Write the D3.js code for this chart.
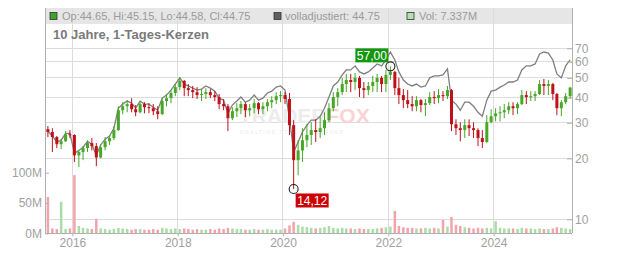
<!DOCTYPE html>
<html><head><meta charset="utf-8">
<script src="https://cdn.jsdelivr.net/npm/d3@7"></script>
<style>body{margin:0;background:#fff}svg{display:block;font-family:"Liberation Sans",Arial,sans-serif}</style>
</head><body><svg id="c" width="632" height="253"></svg>
<script>
// Monthly periods Jul 2015 .. Jun 2025
const periodStart = new Date(2015, 6, 1), periodEnd = new Date(2025, 6, 1);
const opens = [27.9,27.0,25.5,23.5,24.3,26.3,26.1,20.7,21.5,22.5,
23.8,23.0,20.2,22.7,24.3,25.2,27.6,34.6,36.2,37.1,
35.0,33.8,37.1,35.8,35.4,34.2,33.1,38.4,39.7,42.1,
45.0,48.3,44.5,43.5,42.5,41.1,41.6,42.5,41.1,40.2,
37.1,36.2,31.6,34.2,35.4,37.1,34.6,35.4,37.5,35.0,
36.2,37.9,38.8,40.6,41.1,39.3,29.2,19.6,21.9,24.6,
26.1,27.6,27.0,28.2,30.9,35.4,40.2,42.5,46.6,48.8,
47.7,50.0,44.5,43.5,45.6,47.7,50.0,46.6,51.7,53.5,
44.5,41.1,38.8,37.1,36.2,38.8,36.7,37.5,40.2,39.7,
41.1,40.6,43.5,29.5,28.2,27.6,29.2,28.2,27.6,25.2,
24.1,30.2,32.3,33.4,33.8,34.6,36.2,35.4,37.1,41.1,
40.2,40.6,41.6,46.6,45.6,46.6,41.6,35.4,37.9,40.6];
const highs = [28.9,28.2,25.8,24.9,27.3,27.6,26.3,21.9,23.0,24.6,
25.2,23.8,23.5,25.5,26.1,28.9,36.2,37.9,38.8,39.7,
36.7,38.4,37.9,37.5,37.1,36.2,39.7,41.6,43.5,46.6,
50.5,48.8,46.6,45.6,45.0,44.0,44.5,44.0,43.0,41.6,
39.3,37.1,35.8,37.5,38.4,37.9,37.1,39.3,37.9,37.9,
39.3,40.6,42.5,43.0,42.5,42.1,30.9,24.6,28.2,29.5,
30.2,31.2,32.0,33.8,37.5,42.5,44.5,50.0,52.3,52.3,
52.9,51.1,47.7,47.7,51.1,52.3,51.1,54.7,57.0,54.1,
50.0,44.0,43.5,40.6,40.6,39.3,39.3,42.5,43.0,44.0,
43.0,45.6,44.0,31.2,30.2,31.2,31.2,30.2,28.2,27.6,
32.7,35.0,35.4,36.2,37.1,37.9,37.9,37.9,43.5,43.0,
43.0,43.0,48.8,49.4,48.8,47.2,42.1,38.8,42.1,45.15];
const lows = [25.5,21.5,22.5,22.2,24.1,25.2,19.2,18.1,19.6,21.5,
21.9,18.3,20.0,21.9,23.3,24.6,27.3,33.1,33.8,33.8,
32.3,33.4,33.4,33.4,32.7,31.2,32.7,36.2,37.5,40.6,
43.5,40.6,40.6,39.7,39.3,38.4,39.3,39.7,38.4,35.0,
34.6,27.3,30.9,32.0,33.1,32.0,32.3,33.4,33.1,33.1,
34.2,35.4,37.1,37.9,37.1,26.1,14.12,16.5,19.2,22.7,
23.3,24.1,25.2,26.1,30.2,34.2,36.2,41.1,42.5,42.5,
43.5,40.2,39.7,41.1,42.5,42.5,42.5,42.5,48.8,41.1,
37.1,35.4,35.4,34.2,34.2,33.8,32.3,36.7,37.1,37.5,
38.4,39.3,27.3,26.1,24.3,25.2,25.8,25.2,23.0,22.5,
23.8,29.8,30.5,30.5,31.6,33.1,32.7,33.1,36.7,37.1,
38.4,38.4,41.1,41.1,41.1,38.8,32.7,32.3,37.1,39.3];
const closes = [27.0,25.5,23.5,24.3,26.3,26.1,20.7,21.5,22.5,23.8,
23.0,20.2,22.7,24.3,25.2,27.6,34.6,36.2,37.1,35.0,
33.8,37.1,35.8,35.4,34.2,33.1,38.4,39.7,42.1,45.0,
48.3,44.5,43.5,42.5,41.1,41.6,42.5,41.1,40.2,37.1,
36.2,31.6,34.2,35.4,37.1,34.6,35.4,37.5,35.0,36.2,
37.9,38.8,40.6,41.1,39.3,29.2,19.6,21.9,24.6,26.1,
27.6,27.0,28.2,30.9,35.4,40.2,42.5,46.6,48.8,47.7,
50.0,44.5,43.5,45.6,47.7,50.0,46.6,51.7,53.5,44.5,
41.1,38.8,37.1,36.2,38.8,36.7,37.5,40.2,39.7,41.1,
40.6,43.5,29.5,28.2,27.6,29.2,28.2,27.6,25.2,24.1,
30.2,32.3,33.4,33.8,34.6,36.2,35.4,37.1,41.1,40.2,
40.6,41.6,46.6,45.6,46.6,41.6,35.4,37.9,40.6,44.75];
const adjusted = [27.2,25.8,24.1,24.6,26.6,26.6,21.2,21.9,22.7,24.3,
23.5,20.7,23.3,24.9,25.8,28.2,35.4,37.1,38.4,37.5,
35.4,38.4,37.1,37.1,35.8,34.6,39.7,41.1,43.5,46.6,
50.0,46.6,45.6,44.5,43.5,44.0,45.6,44.5,43.0,39.7,
38.8,33.4,36.7,38.4,40.2,37.9,38.8,41.1,38.8,39.7,
42.1,43.0,45.0,45.6,43.5,31.6,21.5,24.1,27.0,29.2,
30.9,30.9,32.3,35.4,40.2,45.6,47.7,51.7,54.7,54.7,
57.3,53.5,52.3,53.5,56.0,58.6,57.3,61.3,67.1,61.3,
53.5,48.8,46.6,45.6,46.6,45.0,45.6,50.0,51.1,51.1,
51.7,55.4,38.8,37.1,34.6,37.9,37.9,36.2,33.8,32.3,
38.8,43.0,43.5,45.0,46.1,47.7,47.7,48.8,54.7,57.3,
57.3,58.6,65.6,67.1,66.3,61.3,52.3,50.0,57.3,61.3];
const volumes = [60,8,7,52,7,8,96,12,9,8,
7,24,8,7,6,7,9,8,7,6,
7,7,6,6,7,6,9,8,7,8,
7,8,7,6,7,6,6,7,6,8,
7,9,8,7,7,6,6,7,6,6,
7,6,6,6,8,13,19,14,11,10,
9,8,9,10,12,9,8,9,8,8,
7,8,7,7,7,8,9,10,11,37,
12,10,9,9,8,8,9,8,9,8,
22,11,27,14,12,10,9,8,9,8,
9,8,20,9,8,8,8,7,9,8,
8,7,8,7,7,8,10,9,8,7];

const priceTicks = [10,20,30,40,50,60,70];
const volTicks = [0,50,100];
const volTickLabel = v => v + "M";
const yearTicks = [2016,2018,2020,2022,2024];
const titleText = "10 Jahre, 1-Tages-Kerzen";
const legendTexts = ["Op:44.65, Hi:45.15, Lo:44.58, Cl:44.75", "volladjustiert: 44.75", "Vol: 7.337M"];
const maxValue = 57.00, minValue = 14.12;
const fmtDE = d3.format(".2f");

const months = d3.timeMonth.range(periodStart, periodEnd);
const data = months.map((m, i) => ({
  date: new Date(m.getFullYear(), m.getMonth(), 15),
  o: opens[i], h: highs[i], l: lows[i], c: closes[i], a: adjusted[i], v: volumes[i]
}));

const L = 45, R = 572, T = 8, B = 233.3;
const svg = d3.select("#c");
const x = d3.scaleTime().domain([new Date(2015,5,25), new Date(2025,5,28)]).range([L, R]);
const y = d3.scaleLog().domain([10, 70]).range([219.3, 48.3]);
const yv = d3.scaleLinear().domain([0, 100]).range([B, 172.7]);

const UP = "#46a826", DOWN = "#c0111b", GRID = "#dcdcdc", AX = "#b0b0b0", LBL = "#a0a0a0";

// legend band
svg.append("rect").attr("x", L).attr("y", T).attr("width", R - L).attr("height", 16).attr("fill", "#e6e6e6");

// gridlines
svg.append("g").selectAll("line").data(priceTicks).join("line")
  .attr("x1", L).attr("x2", R).attr("y1", d => y(d)).attr("y2", d => y(d))
  .attr("stroke", GRID).attr("stroke-width", 1).attr("shape-rendering", "crispEdges");
svg.append("g").selectAll("line").data(yearTicks).join("line")
  .attr("x1", d => x(new Date(d,0,1))).attr("x2", d => x(new Date(d,0,1)))
  .attr("y1", T).attr("y2", B)
  .attr("stroke", GRID).attr("stroke-width", 1).attr("shape-rendering", "crispEdges");

// watermark
const wm = svg.append("text").attr("x", 239).attr("y", 123).attr("font-size", 21).attr("font-weight", "bold");
wm.append("tspan").attr("fill", "#ececec").text("TRADER");
wm.append("tspan").attr("fill", "#fad3d6").text("FOX");
svg.append("text").attr("x", 240).attr("y", 134).attr("font-size", 5.5).attr("letter-spacing", 1.2)
  .attr("fill", "#ededed").text("REALTIME STOCKSCREENER");

// volume
svg.append("g").selectAll("rect").data(data).join("rect")
  .attr("x", d => x(d.date) - 1.25).attr("width", 2.5)
  .attr("y", d => yv(d.v)).attr("height", d => B - yv(d.v))
  .attr("fill", d => d.c >= d.o ? "#a9dca6" : "#f3a3ab");

// adjusted line
svg.append("path").datum(data)
  .attr("d", d3.line().x(d => x(d.date)).y(d => y(d.a)))
  .attr("fill", "none").attr("stroke", "#7f7f7f").attr("stroke-width", 1.3);

// candles
const cg = svg.append("g").selectAll("g").data(data).join("g");
cg.append("line").attr("x1", d => x(d.date)).attr("x2", d => x(d.date))
  .attr("y1", d => y(d.h)).attr("y2", d => y(d.l))
  .attr("stroke", d => d.c >= d.o ? UP : DOWN).attr("stroke-width", 1);
cg.append("rect").attr("x", d => x(d.date) - 1.5).attr("width", 3)
  .attr("y", d => y(Math.max(d.o, d.c))).attr("height", d => Math.max(1, Math.abs(y(d.o) - y(d.c))))
  .attr("fill", d => d.c >= d.o ? UP : DOWN);

// axes
const rAx = svg.append("g").attr("transform", `translate(${R},0)`)
  .call(d3.axisRight(y).tickValues(priceTicks).tickFormat(d3.format("d")).tickSizeInner(-5).tickSizeOuter(0).tickPadding(3));
const lAx = svg.append("g").attr("transform", `translate(${L},0)`)
  .call(d3.axisLeft(yv).tickValues(volTicks).tickFormat(volTickLabel).tickSizeInner(-4).tickSizeOuter(0).tickPadding(3));
const bAx = svg.append("g").attr("transform", `translate(0,${B})`)
  .call(d3.axisBottom(x).tickValues(yearTicks.map(d => new Date(d,0,1))).tickFormat(d3.timeFormat("%Y")).tickSize(3).tickSizeOuter(0).tickPadding(2));
[rAx, lAx, bAx].forEach(g => {
  g.select(".domain").remove();
  g.selectAll("line").attr("stroke", AX);
  g.selectAll("text").attr("fill", LBL).attr("font-size", 12).attr("font-family", '"Liberation Sans",Arial,sans-serif');
});
svg.append("line").attr("x1", L).attr("x2", L).attr("y1", T).attr("y2", B).attr("stroke", AX).attr("shape-rendering", "crispEdges");
svg.append("line").attr("x1", R).attr("x2", R).attr("y1", T).attr("y2", B).attr("stroke", AX).attr("shape-rendering", "crispEdges");
svg.append("line").attr("x1", L).attr("x2", R).attr("y1", B).attr("y2", B).attr("stroke", AX).attr("shape-rendering", "crispEdges");

// extremes
const maxD = data.find(d => d.h === maxValue), minD = data.find(d => d.l === minValue);
function marker(d, val, fill, dx, dy) {
  const cx = x(d.date), cy = y(val);
  svg.append("circle").attr("cx", cx).attr("cy", cy).attr("r", 4.5).attr("fill", "none").attr("stroke", "#222").attr("stroke-width", 1.1);
  const bx = cx + dx, by = cy + dy;
  svg.append("rect").attr("x", bx).attr("y", by).attr("width", 33).attr("height", 14).attr("fill", fill);
  svg.append("text").attr("x", bx + 16.5).attr("y", by + 11.3).attr("text-anchor", "middle")
    .attr("font-size", 12).attr("fill", "#fff").text(fmtDE(val).replace(".", ","));
}
marker(maxD, maxValue, "#14960f", -35, -18);
marker(minD, minValue, "#cc0000", 2, 4.5);

// legend
const legX = [50, 274, 407], legTX = [62, 285, 419];
const legFill = ["#3aa52a", "#606060", "#b3e2b0"];
legendTexts.forEach((t, i) => {
  svg.append("rect").attr("x", legX[i]).attr("y", 12.5).attr("width", 7).attr("height", 7)
    .attr("fill", legFill[i]).attr("stroke", "#333").attr("stroke-width", 0.8);
  svg.append("text").attr("x", legTX[i]).attr("y", 20.3).attr("font-size", 11).attr("fill", "#9a9a9a").text(t);
});
svg.append("text").attr("x", 53).attr("y", 38.5).attr("font-size", 13).attr("font-weight", "bold")
  .attr("fill", "#7a7a7a").text(titleText);
</script></body></html>
